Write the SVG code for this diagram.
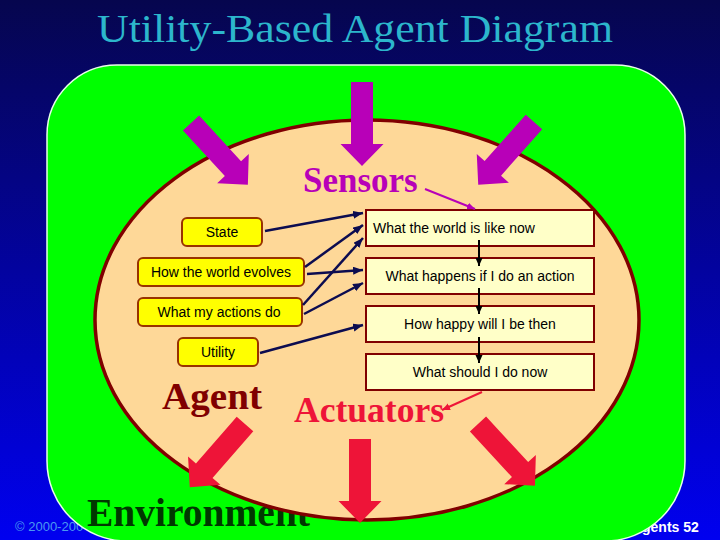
<svg xmlns="http://www.w3.org/2000/svg" width="720" height="540" viewBox="0 0 720 540">
<defs>
<linearGradient id="bg" x1="0" y1="0" x2="0" y2="1">
<stop offset="0" stop-color="#06064e"/>
<stop offset="1" stop-color="#0000f0"/>
</linearGradient>
<path id="blk" d="M0,-11 L62,-11 L62,-21.5 L84,0 L62,21.5 L62,11 L0,11 Z"/>
<marker id="ah" markerUnits="userSpaceOnUse" markerWidth="12" markerHeight="10" refX="10" refY="4" orient="auto">
<path d="M0,0 L10,4 L0,8 Z" fill="#0c0c50"/>
</marker>
<marker id="ahk" markerUnits="userSpaceOnUse" markerWidth="10" markerHeight="10" refX="8" refY="3.5" orient="auto">
<path d="M0,0 L8,3.5 L0,7 Z" fill="#000000"/>
</marker>
<marker id="ahm" markerUnits="userSpaceOnUse" markerWidth="10" markerHeight="10" refX="8" refY="3.5" orient="auto">
<path d="M0,0 L8,3.5 L0,7 Z" fill="#b800b8"/>
</marker>
<marker id="ahr" markerUnits="userSpaceOnUse" markerWidth="10" markerHeight="10" refX="8" refY="3.5" orient="auto">
<path d="M0,0 L8,3.5 L0,7 Z" fill="#ee1438"/>
</marker>
</defs>
<style>
.lb{fill:#ffff00;stroke:#993300;stroke-width:2}
.rb{fill:#ffffc8;stroke:#800000;stroke-width:2}
.t{font-family:"Liberation Sans",Arial,sans-serif;font-size:14px;fill:#000000}
.c{text-anchor:middle}
.serif{font-family:"Liberation Serif","Times New Roman",serif}
.conn{stroke:#0c0c50;stroke-width:2.5;fill:none;marker-end:url(#ah)}
.flow{stroke:#000000;stroke-width:2;fill:none;marker-end:url(#ahk)}
.sens{fill:#b800b8}
.act{fill:#ee1438}
</style>
<rect x="0" y="0" width="720" height="540" fill="url(#bg)"/>
<text x="355" y="42" class="serif c" font-size="40" fill="#2cb6cc" textLength="516" lengthAdjust="spacingAndGlyphs">Utility-Based Agent Diagram</text>
<text x="15" y="531" font-family="Liberation Sans,Arial,sans-serif" font-size="13" fill="#4a98f0">© 2000-200</text>
<text x="642" y="532" font-family="Liberation Sans,Arial,sans-serif" font-size="14" font-weight="bold" fill="#ffffff">gents 52</text>
<g id="environment">
<path d="M117,65 H615 A70,70 0 0 1 685,135 V461 A80,80 0 0 1 605,541 H127 A80,80 0 0 1 47,461 V135 A70,70 0 0 1 117,65 Z" fill="#00ff00" stroke="#e8ffe8" stroke-width="1.5"/>
<text x="87" y="526" class="serif" font-size="40" font-weight="bold" fill="#003800" textLength="223" lengthAdjust="spacingAndGlyphs">Environment</text>
</g>
<g id="agent">
<ellipse cx="367" cy="320" rx="272" ry="200" fill="#fed898" stroke="#800000" stroke-width="3.5"/>
<text x="162" y="409" class="serif" font-size="37" font-weight="bold" fill="#800000" textLength="100" lengthAdjust="spacingAndGlyphs">Agent</text>
</g>
<g id="sensor-arrows">
<use href="#blk" class="sens" transform="translate(362,82) rotate(90)"/>
<use href="#blk" class="sens" transform="translate(191,123) rotate(47.4)"/>
<use href="#blk" class="sens" transform="translate(534,122) rotate(131.6)"/>
</g>
<g id="actuator-arrows">
<use href="#blk" class="act" transform="translate(245,424) rotate(131.1)"/>
<use href="#blk" class="act" transform="translate(360,439) rotate(90)"/>
<use href="#blk" class="act" transform="translate(478,424) rotate(47.3)"/>
</g>
<g id="sensors">
<text x="303" y="192" class="serif" font-size="35" font-weight="bold" fill="#b800b8">Sensors</text>
</g>
<g id="actuators">
<text x="294" y="422" class="serif" font-size="35" font-weight="bold" fill="#ee1438" textLength="150" lengthAdjust="spacingAndGlyphs">Actuators</text>
</g>
<g id="state"><rect class="lb" x="182" y="218" width="80" height="28" rx="5"/><text class="t c" x="222" y="237">State</text></g>
<g id="evolves"><rect class="lb" x="138" y="258" width="166" height="28" rx="5"/><text class="t c" x="221" y="277">How the world evolves</text></g>
<g id="actions"><rect class="lb" x="138" y="298" width="164" height="28" rx="5"/><text class="t c" x="219" y="317">What my actions do</text></g>
<g id="utility"><rect class="lb" x="178" y="338" width="80" height="28" rx="5"/><text class="t c" x="218" y="357">Utility</text></g>
<g id="world-now"><rect class="rb" x="366" y="210" width="228" height="36"/><text class="t" x="373" y="233">What the world is like now</text></g>
<g id="what-happens"><rect class="rb" x="366" y="258" width="228" height="36"/><text class="t c" x="480" y="281">What happens if I do an action</text></g>
<g id="how-happy"><rect class="rb" x="366" y="306" width="228" height="36"/><text class="t c" x="480" y="329">How happy will I be then</text></g>
<g id="what-do"><rect class="rb" x="366" y="354" width="228" height="36"/><text class="t c" x="480" y="377">What should I do now</text></g>
<g id="connectors">
<line class="conn" x1="265" y1="231" x2="363" y2="213"/>
<line class="conn" x1="305" y1="267" x2="363" y2="225"/>
<line class="conn" x1="307" y1="274" x2="363" y2="270"/>
<line class="conn" x1="303" y1="305" x2="363" y2="238"/>
<line class="conn" x1="304" y1="314" x2="363" y2="283"/>
<line class="conn" x1="260" y1="353" x2="363" y2="325"/>
<line class="flow" x1="479" y1="240" x2="479" y2="266"/>
<line class="flow" x1="479" y1="288" x2="479" y2="314"/>
<line class="flow" x1="479" y1="337" x2="479" y2="363"/>
<line x1="425" y1="189" x2="475" y2="209" stroke="#b800b8" stroke-width="2" marker-end="url(#ahm)"/>
<line x1="482" y1="392" x2="442" y2="410" stroke="#ee1438" stroke-width="2" marker-end="url(#ahr)"/>
</g>
</svg>
